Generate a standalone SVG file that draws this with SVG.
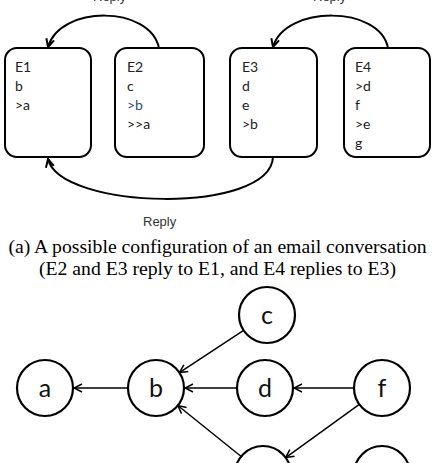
<svg xmlns="http://www.w3.org/2000/svg" width="435" height="463" viewBox="0 0 435 463">
<style>
.box{fill:#fff;stroke:#000;stroke-width:2}
.bt{font-family:Lato,"Open Sans",sans-serif;font-size:14px;fill:#222}
.arc{fill:none;stroke:#000;stroke-width:2}
.lbl{font-family:"Liberation Sans",Arial,sans-serif;font-size:13px;fill:#333}
.cap{font-family:"Liberation Serif","Times New Roman",serif;font-size:19.7px;fill:#000;text-anchor:middle}
.node circle{fill:#fff;stroke:#000;stroke-width:2.2}
.node text{font-family:Lato,"Open Sans",sans-serif;font-size:25px;fill:#111;text-anchor:middle}
.edge{stroke:#000;stroke-width:1.5;fill:none}
</style>
<defs>
<marker id="ah" markerUnits="userSpaceOnUse" viewBox="0 0 10 10" refX="9" refY="5" markerWidth="10" markerHeight="10" orient="auto">
<path d="M1,1 L9,5 L1,9" fill="none" stroke="#000" stroke-width="2"/>
</marker>
<marker id="oh" markerUnits="userSpaceOnUse" viewBox="0 0 10 10" refX="9" refY="5" markerWidth="10" markerHeight="10" orient="auto">
<path d="M1,1 L9,5 L1,9" fill="none" stroke="#000" stroke-width="1.5"/>
</marker>
</defs>

<g id="connectors">
<path class="arc" d="M159,48 C150,5 60,5 48,47" marker-end="url(#ah)"/>
<path class="arc" d="M388,48 C380,5 285,5 273,47" marker-end="url(#ah)"/>
<path class="arc" d="M273,157 C270,215 60,210 48,159" marker-end="url(#ah)"/>
<line class="edge" x1="128" y1="388" x2="74" y2="388" marker-end="url(#oh)"/>
<line class="edge" x1="237" y1="388" x2="185" y2="388" marker-end="url(#oh)"/>
<line class="edge" x1="354" y1="388" x2="294" y2="388" marker-end="url(#oh)"/>
<line class="edge" x1="243.6" y1="330.4" x2="179.4" y2="372.6" marker-end="url(#oh)"/>
<line class="edge" x1="241.2" y1="456.5" x2="177.8" y2="405.5" marker-end="url(#oh)"/>
<line class="edge" x1="359.3" y1="404.4" x2="285.7" y2="457.6" marker-end="url(#oh)"/>
</g>

<text class="lbl" x="93" y="0.5">Reply</text>
<text class="lbl" x="313" y="0.5">Reply</text>
<text class="lbl" x="143" y="226">Reply</text>

<g id="E1">
<rect class="box" x="5" y="48" width="86" height="109" rx="12"/>
<text class="bt" x="15" y="72">E1</text>
<text class="bt" x="15" y="91">b</text>
<text class="bt" x="15" y="110">&gt;a</text>
</g>
<g id="E2">
<rect class="box" x="115" y="48" width="89" height="109" rx="12"/>
<text class="bt" x="127" y="72">E2</text>
<text class="bt" x="127" y="91">c</text>
<text class="bt" x="127" y="110" style="fill:#2a4a82">&gt;b</text>
<text class="bt" x="127" y="129">&gt;&gt;a</text>
</g>
<g id="E3">
<rect class="box" x="230" y="48" width="87" height="109" rx="12"/>
<text class="bt" x="242" y="72">E3</text>
<text class="bt" x="242" y="91">d</text>
<text class="bt" x="242" y="110">e</text>
<text class="bt" x="242" y="129">&gt;b</text>
</g>
<g id="E4">
<rect class="box" x="344" y="48" width="86" height="109" rx="12"/>
<text class="bt" x="355" y="72">E4</text>
<text class="bt" x="355" y="91">&gt;d</text>
<text class="bt" x="355" y="110">f</text>
<text class="bt" x="355" y="129">&gt;e</text>
<text class="bt" x="355" y="148">g</text>
</g>

<text class="cap" x="217.5" y="253">(a) A possible configuration of an email conversation</text>
<text class="cap" x="217.5" y="275">(E2 and E3 reply to E1, and E4 replies to E3)</text>

<g id="node-a" class="node"><circle cx="45" cy="388" r="28"/><text x="45" y="397">a</text></g>
<g id="node-b" class="node"><circle cx="156" cy="388" r="28"/><text x="156" y="397">b</text></g>
<g id="node-c" class="node"><circle cx="267" cy="315" r="28"/><text x="267" y="324">c</text></g>
<g id="node-d" class="node"><circle cx="265" cy="388" r="28"/><text x="265" y="397">d</text></g>
<g id="node-f" class="node"><circle cx="382" cy="388" r="28"/><text x="382" y="397">f</text></g>
<g id="node-e" class="node"><circle cx="263" cy="474" r="28"/></g>
<g id="node-g" class="node"><circle cx="382" cy="474" r="28"/></g>
</svg>
